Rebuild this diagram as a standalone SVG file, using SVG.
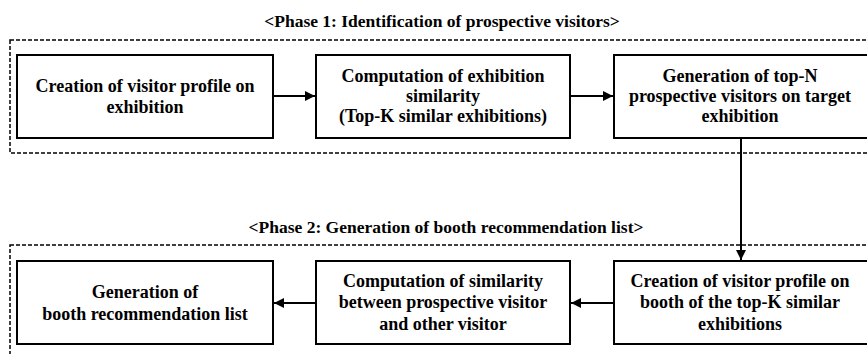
<svg xmlns="http://www.w3.org/2000/svg" width="867" height="354" viewBox="0 0 867 354">
  <style>
    .phase { fill: none; stroke: #000; stroke-width: 1.5; stroke-dasharray: 4 2; }
    .box { fill: #fff; stroke: #000; stroke-width: 2; }
    .title { font-family: "Liberation Serif", "Times New Roman", serif; font-weight: bold; font-size: 17.5px; text-anchor: middle; fill: #000; }
    .label { font-family: "Liberation Serif", "Times New Roman", serif; font-weight: bold; font-size: 18px; text-anchor: middle; fill: #000; }
    .edge { stroke: #000; stroke-width: 2; fill: none; }
  </style>
  <defs>
    <marker id="arrow" viewBox="0 0 10 10" refX="10" refY="5" markerWidth="10" markerHeight="10" markerUnits="userSpaceOnUse" orient="auto">
      <path d="M0,0 L10,5 L0,10 Z" fill="#000"/>
    </marker>
  </defs>
  <rect width="867" height="354" fill="#fff"/>

  <!-- Phase frames -->
  <g id="phase1">
    <text class="title" x="442" y="27">&lt;Phase 1: Identification of prospective visitors&gt;</text>
    <rect class="phase" x="10" y="40" width="870" height="113"/>
  </g>
  <g id="phase2">
    <text class="title" x="446" y="233">&lt;Phase 2: Generation of booth recommendation list&gt;</text>
    <rect class="phase" x="10" y="245" width="870" height="130"/>
  </g>

  <!-- Phase 1 steps -->
  <g id="visitor-profile-exhibition">
    <rect class="box" x="17" y="55" width="256" height="83"/>
    <text class="label" x="145" y="92">Creation of visitor profile on</text>
    <text class="label" x="145" y="113">exhibition</text>
  </g>
  <g id="exhibition-similarity">
    <rect class="box" x="316" y="55" width="254" height="83"/>
    <text class="label" x="443" y="82">Computation of exhibition</text>
    <text class="label" x="443" y="102">similarity</text>
    <text class="label" x="443" y="122">(Top-K similar exhibitions)</text>
  </g>
  <g id="top-n-visitors">
    <rect class="box" x="614" y="55" width="260" height="83"/>
    <text class="label" x="740" y="82">Generation of top-N</text>
    <text class="label" x="740" y="102">prospective visitors on target</text>
    <text class="label" x="740" y="122">exhibition</text>
  </g>

  <!-- Phase 2 steps -->
  <g id="booth-recommendation">
    <rect class="box" x="17" y="261" width="256" height="83"/>
    <text class="label" x="145" y="298">Generation of</text>
    <text class="label" x="145" y="320">booth recommendation list</text>
  </g>
  <g id="visitor-similarity">
    <rect class="box" x="316" y="261" width="254" height="83"/>
    <text class="label" x="443" y="287">Computation of similarity</text>
    <text class="label" x="443" y="308">between prospective visitor</text>
    <text class="label" x="443" y="330">and other visitor</text>
  </g>
  <g id="visitor-profile-booth">
    <rect class="box" x="614" y="261" width="260" height="83"/>
    <text class="label" x="740" y="287">Creation of visitor profile on</text>
    <text class="label" x="740" y="308">booth of the top-K similar</text>
    <text class="label" x="740" y="330">exhibitions</text>
  </g>

  <!-- Connectors -->
  <g id="connectors">
    <line class="edge" x1="273" y1="96" x2="315" y2="96" marker-end="url(#arrow)"/>
    <line class="edge" x1="570" y1="96" x2="613" y2="96" marker-end="url(#arrow)"/>
    <line class="edge" x1="741" y1="138" x2="741" y2="260" marker-end="url(#arrow)"/>
    <line class="edge" x1="614" y1="303" x2="571" y2="303" marker-end="url(#arrow)"/>
    <line class="edge" x1="316" y1="303" x2="274" y2="303" marker-end="url(#arrow)"/>
  </g>
</svg>
